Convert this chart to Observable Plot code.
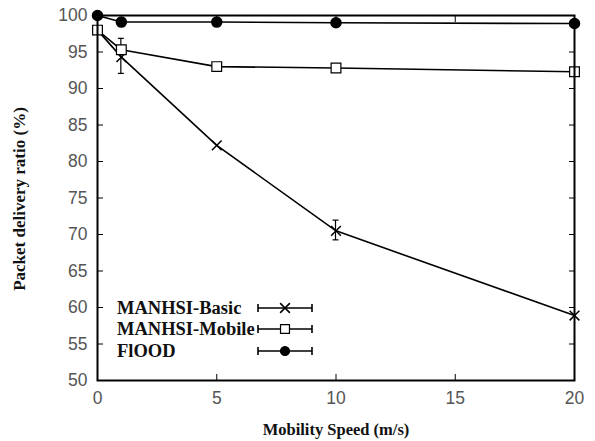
<!DOCTYPE html>
<html>
<head>
<meta charset="utf-8">
<script src="https://cdn.jsdelivr.net/npm/d3@7"></script>
<script src="https://cdn.jsdelivr.net/npm/@observablehq/plot@0.6"></script>
<style>
  html, body { margin: 0; padding: 0; background: #fff; }
  svg { display: block; }
</style>
</head>
<body>
<div id="chart"></div>
<script>
const speeds = [0, 1, 5, 10, 20];
const basic = [98, 94.3, 82.2, 70.5, 58.9];
const mobile = [98, 95.3, 93, 92.8, 92.3];
const flood = [100, 99.1, 99.1, 99.0, 98.9];
const seriesNames = ["MANHSI-Basic", "MANHSI-Mobile", "FlOOD"];
const seriesSymbols = ["times", "square", "circle"];
const seriesFills = ["none", "white", "black"];
// error bars: [speed, low, high]
const basicErrX = [1, 10];
const basicErrLo = [92.0, 69.2];
const basicErrHi = [96.8, 71.9];
const xTicks = [0, 5, 10, 15, 20];
const yTicks = [50, 55, 60, 65, 70, 75, 80, 85, 90, 95, 100];

const rows = [];
[basic, mobile, flood].forEach((vals, s) => {
  speeds.forEach((x, i) => rows.push({series: seriesNames[s], s, x, y: vals[i]}));
});
const errs = basicErrX.map((x, i) => ({x, lo: basicErrLo[i], hi: basicErrHi[i]}));
const legend = seriesNames.map((name, i) => ({name, i, symbol: seriesSymbols[i], fill: seriesFills[i]}));

const tickFont = {fontFamily: "Liberation Sans, Arial, sans-serif", fontSize: 17.5, fill: "#555"};
const legendDy = [-72, -51, -29];

const chart = Plot.plot({
  width: 595,
  height: 441,
  marginLeft: 97,
  marginRight: 21,
  marginTop: 15,
  marginBottom: 61,
  style: {background: "white", overflow: "visible"},
  x: {type: "linear", domain: [0, 20]},
  y: {type: "linear", domain: [50, 100]},
  marks: [
    Plot.line(rows, {x: "x", y: "y", z: "series", stroke: "black", strokeWidth: 1.6}),
    Plot.ruleX(errs, {x: "x", y1: "lo", y2: "hi", stroke: "black", strokeWidth: 1.2,
      render: (i, s) => {
        const g = d3.create("svg:g").attr("stroke", "black").attr("stroke-width", 1.2);
        for (const k of i) {
          const cx = s.x(errs[k].x), ylo = s.y(errs[k].lo), yhi = s.y(errs[k].hi);
          g.append("line").attr("x1", cx).attr("x2", cx).attr("y1", ylo).attr("y2", yhi);
          for (const cy of [ylo, yhi]) {
            g.append("line").attr("x1", cx - 3).attr("x2", cx + 3).attr("y1", cy).attr("y2", cy);
          }
        }
        return g.node();
      }}),
    Plot.dot(rows.filter(d => d.s === 0), {x: "x", y: "y", symbol: "times", r: 4.5, stroke: "black", strokeWidth: 1.5}),
    Plot.dot(rows.filter(d => d.s === 1), {x: "x", y: "y", symbol: "square", r: 5.5, stroke: "black", fill: "white", strokeWidth: 1.2}),
    Plot.dot(rows.filter(d => d.s === 2), {x: "x", y: "y", symbol: "circle", r: 5, fill: "black", stroke: "black"}),
    // inward ticks on all sides
    Plot.axisY({ticks: yTicks, anchor: "left", tickSize: -6, tickFormat: () => "", label: null, strokeWidth: 1}),
    Plot.axisY({ticks: yTicks, anchor: "right", tickSize: -6, tickFormat: () => "", label: null, strokeWidth: 1}),
    Plot.axisX({ticks: xTicks, anchor: "top", tickSize: -6, tickFormat: () => "", label: null, strokeWidth: 1}),
    Plot.axisX({ticks: xTicks, anchor: "bottom", tickSize: -6, tickFormat: () => "", label: null, strokeWidth: 1}),
    Plot.axisY({ticks: yTicks, anchor: "left", tickSize: 0, tickPadding: 10, label: null, ...tickFont}),
    Plot.axisX({ticks: xTicks, anchor: "bottom", tickSize: 0, tickPadding: 11, label: null, ...tickFont}),
    Plot.frame({stroke: "black", strokeWidth: 2}),
    // legend
    Plot.text(legend, {frameAnchor: "bottom-left", text: "name",
      render: (i, s, v, d) => {
        const g = d3.create("svg:g");
        const x0 = d.marginLeft, y0 = d.height - d.marginBottom;
        for (const k of i) {
          const it = legend[k];
          const cy = y0 + legendDy[k];
          g.append("text").attr("x", x0 + 20).attr("y", cy).attr("dy", "0.35em").attr("text-anchor", "start")
            .attr("font-family", "Liberation Serif, Times New Roman, serif").attr("font-weight", "bold")
            .attr("font-size", 18.5).attr("fill", "#111").text(it.name);
          const a = x0 + 161, b = x0 + 215, m = x0 + 188;
          g.append("line").attr("x1", a).attr("x2", b).attr("y1", cy).attr("y2", cy).attr("stroke", "black").attr("stroke-width", 1.6);
          for (const e of [a, b]) g.append("line").attr("x1", e).attr("x2", e).attr("y1", cy - 4).attr("y2", cy + 4).attr("stroke", "black").attr("stroke-width", 1.6);
          const sym = d3.symbol(it.symbol === "times" ? d3.symbolTimes : it.symbol === "square" ? d3.symbolSquare : d3.symbolCircle, it.symbol === "square" ? 80 : 64)();
          g.append("path").attr("d", sym).attr("transform", `translate(${m},${cy})`)
            .attr("fill", it.fill).attr("stroke", "black").attr("stroke-width", it.symbol === "times" ? 1.5 : 1.2);
        }
        return g.node();
      }})
  ]
});

const svg = d3.select(chart);
// axis titles
svg.append("text").attr("x", 336).attr("y", 435).attr("text-anchor", "middle")
  .attr("font-family", "Liberation Serif, Times New Roman, serif").attr("font-weight", "bold").attr("font-size", 16.5).attr("fill", "#111")
  .text("Mobility Speed (m/s)");
svg.append("text").attr("transform", "translate(25,199) rotate(-90)").attr("text-anchor", "middle")
  .attr("font-family", "Liberation Serif, Times New Roman, serif").attr("font-weight", "bold").attr("font-size", 17).attr("fill", "#111")
  .text("Packet delivery ratio (%)");

document.getElementById("chart").appendChild(chart);
</script>
</body>
</html>
